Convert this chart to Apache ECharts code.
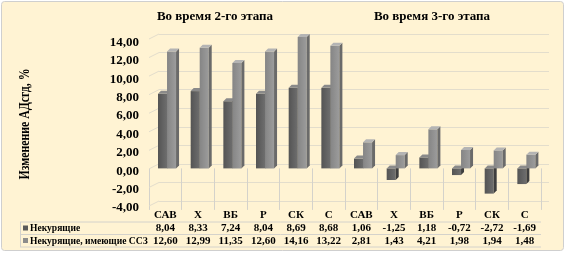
<!DOCTYPE html>
<html><head><meta charset="utf-8">
<script src="https://cdn.jsdelivr.net/npm/echarts@6/dist/echarts.min.js"></script>
<style>html,body{margin:0;padding:0;background:#fff}#c{width:566px;height:253px}</style>
</head><body><div id="c"></div>
<script>
const categories = ['САВ','Х','ВБ','Р','СК','С','САВ','Х','ВБ','Р','СК','С'];
const seriesNames = ['Некурящие','Некурящие, имеющие ССЗ'];
const nonSmokers = [8.04,8.33,7.24,8.04,8.69,8.68,1.06,-1.25,1.18,-0.72,-2.72,-1.69];
const nonSmokersCvd = [12.60,12.99,11.35,12.60,14.16,13.22,2.81,1.43,4.21,1.98,1.94,1.48];
const stageTitles = ['Во время 2-го этапа','Во время 3-го этапа'];
const yTitle = 'Изменение АДсгд, %';
const yMin = -4, yMax = 14, yStep = 2;

const fmt = v => v.toFixed(2).replace('.', ',');
const FONT = '"Liberation Serif", "Times New Roman", serif';
const G = echarts.graphic;

const palettes = [
  {front: ['#545454','#6e6e6e'], side: '#3e3e3e', top: '#8a8a8a', key: '#595959'},
  {front: ['#858585','#9c9c9c'], side: '#6a6a6a', top: '#b4b4b4', key: '#8c8c8c'}
];

function makeRender(sIdx) {
  const p = palettes[sIdx];
  return function (params, api) {
    const i = api.value(0), v = api.value(1);
    const base = api.coord([i, 0]);
    const tip = api.coord([i, v]);
    const bw = api.size([1, 0])[0];
    const left = base[0] - bw / 2;
    const x0 = left + bw * (sIdx === 0 ? 0.276 : 0.552);
    const x1 = left + bw * (sIdx === 0 ? 0.552 : 0.828);
    const d = 3;
    const yt = Math.min(base[1], tip[1]);
    const yb = Math.max(base[1], tip[1]);
    return {type: 'group', children: [
      {type: 'rect', shape: {x: x0, y: yt, width: x1 - x0, height: yb - yt},
        style: {fill: new G.LinearGradient(0, 0, 1, 0, [{offset: 0, color: p.front[0]}, {offset: 1, color: p.front[1]}])}},
      {type: 'polygon', shape: {points: [[x1, yt], [x1 + d, yt - d], [x1 + d, yb - d], [x1, yb]]}, style: {fill: p.side}},
      {type: 'polygon', shape: {points: [[x0, yt], [x0 + d, yt - d], [x1 + d, yt - d], [x1, yt]]}, style: {fill: p.top}}
    ]};
  };
}

const ticks = [];
for (let t = yMin; t <= yMax; t += yStep) ticks.push([0, t]);

const chart = echarts.init(document.getElementById('c'), null, {renderer: 'canvas'});
const txt = {fontFamily: FONT, fontWeight: 'bold', color: '#000'};
const lineC = '#d4d2cb';

chart.setOption({
  backgroundColor: 'transparent',
  animation: false,
  grid: [
    {left: 149, right: 25, top: 38.5, bottom: 47.5},   // bars
    {left: 159, right: 17, top: 34, bottom: 52},       // back wall gridlines
    {left: 149, right: 25, top: 42.5, bottom: 45}      // axis labels
  ],
  xAxis: [
    {type: 'category', gridIndex: 0, data: categories, position: 'bottom',
      axisLine: {show: false},
      axisTick: {show: true, length: 41.5, lineStyle: {color: lineC}},
      axisLabel: Object.assign({fontSize: 11, margin: 4, interval: 0}, txt)},
    {type: 'category', gridIndex: 0, data: nonSmokers.map(fmt), position: 'bottom', offset: 13,
      axisLine: {show: false}, axisTick: {show: false},
      axisLabel: Object.assign({fontSize: 11, margin: 4, interval: 0}, txt)},
    {type: 'category', gridIndex: 0, data: nonSmokersCvd.map(fmt), position: 'bottom', offset: 26,
      axisLine: {show: false}, axisTick: {show: false},
      axisLabel: Object.assign({fontSize: 11, margin: 4, interval: 0}, txt)},
    {type: 'value', gridIndex: 1, min: 0, max: 1, show: false},
    {type: 'value', gridIndex: 2, min: 0, max: 1, show: false}
  ],
  yAxis: [
    {type: 'value', gridIndex: 0, min: yMin, max: yMax, interval: yStep, show: false},
    {type: 'value', gridIndex: 1, min: yMin, max: yMax, interval: yStep,
      axisLine: {show: false}, axisTick: {show: false}, axisLabel: {show: false},
      splitLine: {show: true, lineStyle: {color: '#e3ddcc', width: 1}}},
    {type: 'value', gridIndex: 2, min: yMin, max: yMax, interval: yStep,
      axisLine: {show: false}, axisTick: {show: false}, splitLine: {show: false},
      axisLabel: Object.assign({fontSize: 13, margin: 10, formatter: v => fmt(v)}, txt)}
  ],
  series: [
    {type: 'custom', name: 'wall', xAxisIndex: 3, yAxisIndex: 1, silent: true,
      data: ticks,
      renderItem: function (params, api) {
        const c = api.coord([api.value(0), api.value(1)]);
        return {type: 'line', shape: {x1: c[0] - 10, y1: c[1] + 5, x2: c[0], y2: c[1]},
          style: {stroke: '#e3ddcc', lineWidth: 1}};
      }},
    {type: 'custom', name: seriesNames[0], xAxisIndex: 0, yAxisIndex: 0,
      data: nonSmokers.map((v, i) => [i, v]), encode: {x: 0, y: 1}, renderItem: makeRender(0)},
    {type: 'custom', name: seriesNames[1], xAxisIndex: 0, yAxisIndex: 0,
      data: nonSmokersCvd.map((v, i) => [i, v]), encode: {x: 0, y: 1}, renderItem: makeRender(1)}
  ],
  graphic: [
    {type: 'rect', z: -10, shape: {x: 1.5, y: 1.5, width: 562, height: 249, r: 3},
      style: {fill: '#fff3d3', stroke: '#cfcfcf', lineWidth: 1}},
    {type: 'text', x: 215, y: 17, style: {text: stageTitles[0], font: 'bold 13px ' + FONT, fill: '#000', align: 'center', verticalAlign: 'middle'}},
    {type: 'text', x: 432, y: 17, style: {text: stageTitles[1], font: 'bold 13px ' + FONT, fill: '#000', align: 'center', verticalAlign: 'middle'}},
    {type: 'text', x: 25, y: 124, rotation: Math.PI / 2, scaleX: 0.84,
      style: {text: yTitle, font: 'bold 14px ' + FONT, fill: '#000', align: 'center', verticalAlign: 'middle'}},
    {type: 'line', shape: {x1: 20, y1: 222, x2: 541, y2: 222}, style: {stroke: lineC}},
    {type: 'line', shape: {x1: 20, y1: 234.5, x2: 541, y2: 234.5}, style: {stroke: lineC}},
    {type: 'line', shape: {x1: 20, y1: 247, x2: 541, y2: 247}, style: {stroke: lineC}},
    {type: 'line', shape: {x1: 20.5, y1: 222, x2: 20.5, y2: 247}, style: {stroke: lineC}},
    {type: 'rect', shape: {x: 23, y: 225.5, width: 5, height: 5}, style: {fill: palettes[0].key}},
    {type: 'rect', shape: {x: 23, y: 238, width: 5, height: 5}, style: {fill: palettes[1].key}},
    {type: 'text', x: 30, y: 228.5, scaleX: 0.87, style: {text: seriesNames[0], font: 'bold 11px ' + FONT, fill: '#000', verticalAlign: 'middle'}},
    {type: 'text', x: 30, y: 241, scaleX: 0.87, style: {text: seriesNames[1], font: 'bold 11px ' + FONT, fill: '#000', verticalAlign: 'middle'}}
  ]
});
</script></body></html>
